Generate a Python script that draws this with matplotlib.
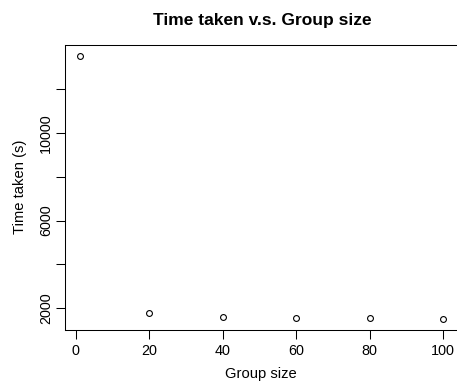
import numpy as np
import matplotlib.pyplot as plt

plt.rcParams['font.family'] = ['Liberation Sans', 'DejaVu Sans']

group_size = [1, 20, 40, 60, 80, 100]
time_taken = [13520, 1770, 1620, 1570, 1550, 1515]

x_ticks = [0, 20, 40, 60, 80, 100]
y_ticks = [2000, 4000, 6000, 8000, 10000, 12000]
y_tick_labels = ['2000', '', '6000', '', '10000', '']


def padded(lo, hi, frac=0.04):
    # base-R style 4% axis expansion
    r = hi - lo
    return lo - frac * r, hi + frac * r


W, H = 457, 387
fig = plt.figure(figsize=(W / 100, H / 100), dpi=100)
ax = fig.add_axes([65 / W, 57.5 / H, 392.5 / W, 284.5 / H])

ax.plot(group_size, time_taken, 'o', mfc='none', mec='black',
        ms=4.2, mew=0.8)

ax.set_xlim(*padded(min(group_size), max(group_size)))
ax.set_ylim(*padded(min(time_taken), max(time_taken)))

ax.set_xticks(x_ticks)
ax.set_xticklabels([str(v) for v in x_ticks])
ax.set_yticks(y_ticks)
ax.set_yticklabels(y_tick_labels, rotation=90, va='center')

ax.tick_params(axis='both', direction='out', length=6.5, width=0.75,
               labelsize=10.4, color='black')
ax.tick_params(axis='x', pad=3.6)
ax.tick_params(axis='y', pad=2.2)

for s in ax.spines.values():
    s.set_linewidth(0.75)
# the plot box runs off the right edge of the image
ax.spines['right'].set_visible(False)

ax.set_xlabel('Group size', fontsize=10.6, labelpad=6.5)
ax.set_ylabel('Time taken (s)', fontsize=10.6, labelpad=8.5)
fig.text(262 / W, 1 - 20 / H, 'Time taken v.s. Group size',
         ha='center', va='center', fontsize=12.5, fontweight='bold')

fig.savefig('out.png', dpi=100)
